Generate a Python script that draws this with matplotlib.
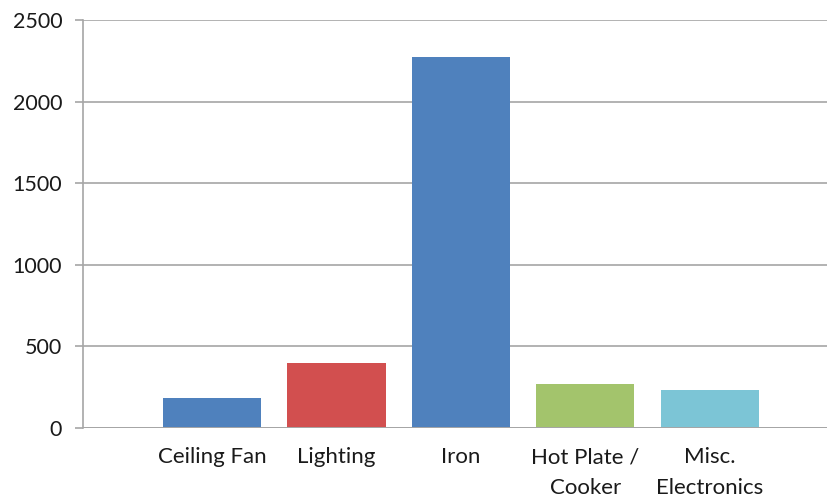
import matplotlib.pyplot as plt

# Data
categories = ['Ceiling Fan', 'Lighting', 'Iron', 'Hot Plate /\nCooker', 'Misc.\nElectronics']
values = [182, 400, 2272, 268, 232]
colors = ['#4f81bd', '#d24f4f', '#4f81bd', '#a3c46c', '#7cc5d6']
y_ticks = [0, 500, 1000, 1500, 2000, 2500]

plt.rcParams['font.family'] = ['Lato', 'DejaVu Sans']

fig = plt.figure(figsize=(8.28, 5.01), dpi=100)
ax = fig.add_axes([0.1002, 0.1457, 0.8998, 0.8143])

x = list(range(len(categories)))
ax.bar(x, values, width=0.79, color=colors, zorder=3)

ax.set_ylim(0, 2500)
ax.set_xlim(-1.036, 4.95)
ax.set_yticks(y_ticks)
ax.set_xticks(x)
ax.set_xticklabels(categories, fontsize=16, linespacing=1.65, color='#1a1a1a')
ax.tick_params(axis='y', labelsize=15.5, length=6, width=1.2, color='#a6a6a6', pad=9,
               labelcolor='#1a1a1a')
ax.tick_params(axis='x', length=0, pad=14)

ax.grid(axis='y', color='#a6a6a6', linewidth=1.2, zorder=0)
for side in ['top', 'right', 'bottom']:
    ax.spines[side].set_visible(False)
ax.spines['left'].set_color('#a6a6a6')
ax.spines['left'].set_linewidth(1.2)
ax.axhline(0, color='#a6a6a6', linewidth=1.4, zorder=4)

fig.savefig('out.png', dpi=100)
